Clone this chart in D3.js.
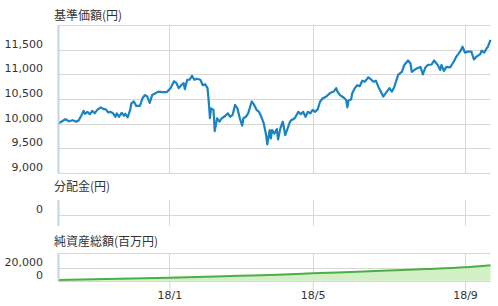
<!DOCTYPE html>
<html>
<head>
<meta charset="utf-8">
<script src="https://cdn.jsdelivr.net/npm/d3@7"></script>
<style>
  body { margin: 0; background: #fff; }
  svg { display: block; }
  .grid line { stroke: #d8d8d8; stroke-width: 1; }
  .title { font-family: "Noto Sans CJK JP", sans-serif; font-size: 12px; fill: #333; }
  .ylab, .xlab { font-family: "DejaVu Sans", Verdana, sans-serif; font-size: 11px; fill: #333; }
</style>
</head>
<body>
<script>
// 基準価額 (NAV) readings
var navDates = ["2017-10-02","2017-10-04","2017-10-08","2017-10-11","2017-10-14","2017-10-17","2017-10-19","2017-10-21","2017-10-23","2017-10-24",
  "2017-10-26","2017-10-28","2017-10-30","2017-11-01","2017-11-03","2017-11-06","2017-11-08","2017-11-10","2017-11-12","2017-11-14",
  "2017-11-16","2017-11-18","2017-11-19","2017-11-21","2017-11-23","2017-11-25","2017-11-26","2017-11-28","2017-11-30","2017-12-01",
  "2017-12-03","2017-12-05","2017-12-08","2017-12-10","2017-12-12","2017-12-14","2017-12-16","2017-12-18","2017-12-21","2017-12-23",
  "2017-12-26","2017-12-30","2018-01-02","2018-01-05","2018-01-07","2018-01-09","2018-01-11","2018-01-13","2018-01-14","2018-01-16",
  "2018-01-18","2018-01-20","2018-01-22","2018-01-24","2018-01-27","2018-01-29","2018-01-31","2018-02-02","2018-02-03","2018-02-04",
  "2018-02-05","2018-02-07","2018-02-08","2018-02-10","2018-02-12","2018-02-14","2018-02-17","2018-02-19","2018-02-21","2018-02-23",
  "2018-02-25","2018-02-27","2018-03-01","2018-03-03","2018-03-04","2018-03-06","2018-03-08","2018-03-11","2018-03-13","2018-03-15",
  "2018-03-17","2018-03-19","2018-03-21","2018-03-23","2018-03-24","2018-03-26","2018-03-27","2018-03-28","2018-03-30","2018-04-01",
  "2018-04-02","2018-04-04","2018-04-06","2018-04-08","2018-04-11","2018-04-12","2018-04-13","2018-04-16","2018-04-19","2018-04-21",
  "2018-04-23","2018-04-25","2018-04-27","2018-04-29","2018-05-01","2018-05-03","2018-05-05","2018-05-07","2018-05-09","2018-05-12",
  "2018-05-15","2018-05-18","2018-05-20","2018-05-21","2018-05-23","2018-05-26","2018-05-28","2018-05-29","2018-05-30","2018-06-01",
  "2018-06-02","2018-06-04","2018-06-06","2018-06-08","2018-06-10","2018-06-12","2018-06-15","2018-06-17","2018-06-19","2018-06-21",
  "2018-06-23","2018-06-25","2018-06-27","2018-06-29","2018-07-02","2018-07-04","2018-07-06","2018-07-09","2018-07-12","2018-07-14",
  "2018-07-17","2018-07-19","2018-07-20","2018-07-24","2018-07-27","2018-07-29","2018-07-31","2018-08-02","2018-08-05","2018-08-07",
  "2018-08-10","2018-08-12","2018-08-13","2018-08-15","2018-08-17","2018-08-20","2018-08-23","2018-08-25","2018-08-28","2018-08-30",
  "2018-09-01","2018-09-03","2018-09-06","2018-09-08","2018-09-10","2018-09-13","2018-09-14","2018-09-16","2018-09-18","2018-09-19",
  "2018-09-21"];
var navValues = [9990,10030,10090,10050,10070,10040,10070,10160,10260,10200,
  10240,10190,10260,10210,10280,10330,10300,10290,10230,10240,
  10210,10140,10210,10140,10220,10160,10200,10130,10280,10410,
  10450,10360,10360,10510,10580,10550,10420,10580,10620,10650,
  10640,10640,10720,10860,10820,10720,10780,10820,10700,10890,
  10890,10970,10890,10910,10890,10780,10800,10720,10450,10110,
  10310,10280,9850,10110,10040,10110,10160,10210,10140,10180,
  10380,10310,10110,9960,10110,10140,10210,10450,10380,10280,
  10240,10140,10010,9770,9580,9870,9700,9870,9800,9890,
  9680,9910,10040,9770,9970,10040,10070,10110,10240,10190,
  10240,10140,10240,10210,10280,10240,10290,10450,10510,10550,
  10620,10650,10720,10650,10580,10530,10480,10330,10470,10490,
  10620,10720,10780,10760,10870,10850,10940,10900,10850,10870,
  10750,10650,10550,10620,10720,10650,10750,10990,11050,11190,
  11280,11220,11050,11120,11150,11000,11140,11190,11200,11280,
  11190,11090,11190,11070,11150,11140,11260,11360,11460,11560,
  11440,11460,11460,11300,11360,11410,11480,11440,11530,11560,
  11700];

// 分配金 (distributions): none paid in the period
var distDates = [];
var distValues = [];

// 純資産総額 (net assets, 百万円)
var assetDates = ["2017-10-02","2017-11-01","2017-12-01","2018-01-01","2018-02-01","2018-03-01","2018-04-01",
  "2018-05-01","2018-06-01","2018-07-01","2018-08-01","2018-09-01","2018-09-21"];
var assetValues = [1000,2200,3400,4600,6000,7500,9000,11400,13500,15600,17800,20600,23700];

var navTicks = [9000, 9500, 10000, 10500, 11000, 11500];
var distTicks = [0];
var assetTicks = [0, 20000];
var xTickDates = ["2018-01-01","2018-05-01","2018-09-01"];
var xTickLabels = ["18/1","18/5","18/9"];

var parse = d3.timeParse("%Y-%m-%d");

var width = 498, height = 306,
    left = 58, right = 490.5;

var svg = d3.select("body").append("svg")
    .attr("width", width)
    .attr("height", height);

// axis is ordinal-ish in the original, so pin the tick dates to their pixel spots
var x = d3.scaleTime()
    .domain([parse("2017-10-02"), parse("2018-01-01"), parse("2018-05-01"), parse("2018-09-01"), parse("2018-09-21")])
    .range([left, 169.3, 312.7, 465, right]);

var panels = [
  { title: "基準価額(円)", titleY: 19.5, top: 25, bottom: 173, domain: [9000, 12000], ticks: navTicks },
  { title: "分配金(円)", titleY: 190.5, top: 200, bottom: 226, domain: [-11, 15], ticks: distTicks },
  { title: "純資産総額(百万円)", titleY: 245.5, top: 253.3, bottom: 280.7, domain: [0, 42000], ticks: assetTicks }
];

panels.forEach(function (p) {
  p.y = d3.scaleLinear().domain(p.domain).range([p.bottom, p.top]);
  var g = svg.append("g").attr("class", "grid");

  // horizontal grid
  var hs = p.ticks.map(p.y);
  if (p !== panels[1]) hs.push(p.top);
  g.selectAll(".h").data(hs).enter().append("line")
      .attr("x1", left).attr("x2", right)
      .attr("y1", function (d) { return Math.round(d) + 0.5; })
      .attr("y2", function (d) { return Math.round(d) + 0.5; });

  // vertical grid
  g.selectAll(".v").data(xTickDates).enter().append("line")
      .attr("x1", function (d) { return Math.round(x(parse(d))) + 0.5; })
      .attr("x2", function (d) { return Math.round(x(parse(d))) + 0.5; })
      .attr("y1", p.top).attr("y2", p.bottom);

  svg.append("text").attr("class", "title")
      .attr("x", 54).attr("y", p.titleY)
      .text(p.title);

  svg.selectAll(null).data(p.ticks).enter().append("text")
      .attr("class", "ylab")
      .attr("x", 43)
      .attr("y", function (d) { return p.y(d) - 2; })
      .attr("text-anchor", "end")
      .text(d3.format(","));
});

// net asset area
var ya = panels[2].y;
var assets = assetDates.map(function (d, i) { return { date: parse(d), value: assetValues[i] }; });
svg.append("path")
    .datum(assets)
    .attr("fill", "#d3efc6")
    .attr("d", d3.area().curve(d3.curveMonotoneX)
        .x(function (d) { return x(d.date); })
        .y0(ya(0))
        .y1(function (d) { return ya(d.value); }));
svg.append("path")
    .datum(assets)
    .attr("fill", "none")
    .attr("stroke", "#4caf45")
    .attr("stroke-width", 2)
    .attr("d", d3.line().curve(d3.curveMonotoneX)
        .x(function (d) { return x(d.date); })
        .y(function (d) { return ya(d.value); }));

// NAV line
var yn = panels[0].y;
var nav = navDates.map(function (d, i) { return { date: parse(d), value: navValues[i] }; });
svg.append("path")
    .datum(nav)
    .attr("fill", "none")
    .attr("stroke", "#1a83c2")
    .attr("stroke-width", 2.2)
    .attr("stroke-linejoin", "round")
    .attr("d", d3.line()
        .x(function (d) { return x(d.date); })
        .y(function (d) { return yn(d.value); }));

// left axis lines of each panel
panels.forEach(function (p) {
  svg.append("line")
      .attr("x1", left + 0.5).attr("x2", left + 0.5)
      .attr("y1", p.top).attr("y2", p.bottom)
      .attr("stroke", "#c4d2e6")
      .attr("stroke-width", 2);
});

// bottom x axis
var xAxis = d3.axisBottom(x)
    .tickValues(xTickDates.map(parse))
    .tickSize(9)
    .tickFormat(function (d, i) { return xTickLabels[i]; });

var ax = svg.append("g")
    .attr("transform", "translate(0," + (Math.round(panels[2].bottom) + 0.5) + ")")
    .call(xAxis);
ax.select(".domain").attr("stroke", "#ccd6eb").attr("d", "M" + left + ",0H" + right);
ax.selectAll(".tick line").attr("stroke", "#ccd6eb");
ax.selectAll(".tick text")
    .attr("class", "xlab")
    .attr("y", 10)
    .attr("dy", "0.71em")
    .style("font-family", "DejaVu Sans, Verdana, sans-serif")
    .style("font-size", "11px")
    .attr("fill", "#333");
</script>
</body>
</html>
